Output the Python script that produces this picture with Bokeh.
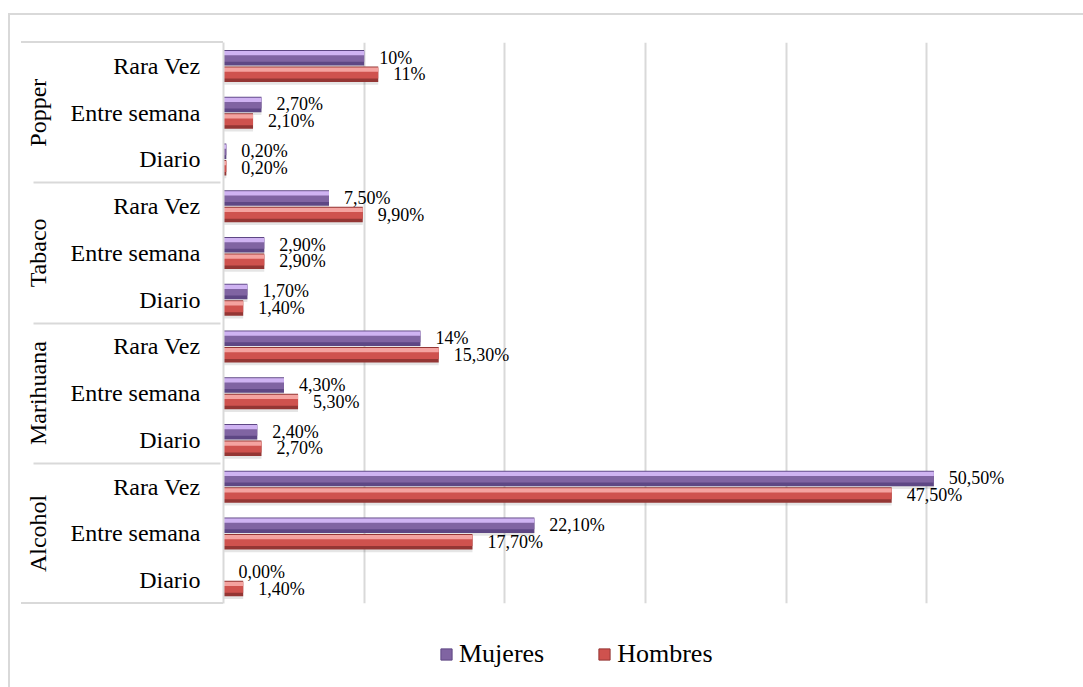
from bokeh.plotting import figure
from bokeh.layouts import column
from bokeh.models import FactorRange, Range1d, FixedTicker, Legend, LegendItem, ColumnDataSource
from bokeh.transform import dodge
from bokeh.core.properties import value
from bokeh.embed import file_html
from bokeh.resources import INLINE

# ---- data (top-to-bottom order as in the chart) ----
substances = ["Popper", "Tabaco", "Marihuana", "Alcohol"]
frequencies = ["Rara Vez", "Entre semana", "Diario"]
mujeres = [10, 2.7, 0.2, 7.5, 2.9, 1.7, 14, 4.3, 2.4, 50.5, 22.1, 0.0]
hombres = [11, 2.1, 0.2, 9.9, 2.9, 1.4, 15.3, 5.3, 2.7, 47.5, 17.7, 1.4]
mujeres_labels = ["10%", "2,70%", "0,20%", "7,50%", "2,90%", "1,70%",
                  "14%", "4,30%", "2,40%", "50,50%", "22,10%", "0,00%"]
hombres_labels = ["11%", "2,10%", "0,20%", "9,90%", "2,90%", "1,40%",
                  "15,30%", "5,30%", "2,70%", "47,50%", "17,70%", "1,40%"]
x_ticks = [0, 10, 20, 30, 40, 50, 60]
series_names = ["Mujeres", "Hombres"]

FONT = "'Liberation Serif', serif"
FONT_GLYPH = "Liberation Serif"
GRID = "#d9d9d9"

cats = [(s, f) for s in substances for f in frequencies]
source = ColumnDataSource(data=dict(cat=cats, m=mujeres, h=hombres,
                                    ml=mujeres_labels, hl=hombres_labels))

y_range = FactorRange(*list(reversed(cats)), group_padding=0, factor_padding=0,
                      subgroup_padding=0, range_padding=0)

p = figure(width=1073, height=612, y_range=y_range, x_range=Range1d(0, 60),
           output_backend="svg", toolbar_location=None,
           min_border_left=213, min_border_right=16, min_border_top=27,
           min_border_bottom=24)
p.outline_line_color = None
p.background_fill_color = "white"
p.border_fill_color = None
# top and bottom rules of the category-label box (decoration only)
rule = f"linear-gradient({GRID}, {GRID})"
p.styles = {
    "background-color": "white",
    "background-image": f"{rule}, {rule}",
    "background-position": "11px 26px, 11px 587px",
    "background-size": "202px 2px, 202px 2px",
    "background-repeat": "no-repeat, no-repeat",
}

p.xaxis.visible = False
p.ygrid.grid_line_color = None
p.xgrid.ticker = FixedTicker(ticks=x_ticks)
p.xgrid.grid_line_color = GRID
p.xgrid.grid_line_width = 2

ax = p.yaxis[0]
ax.axis_line_color = GRID
ax.axis_line_width = 2
ax.major_tick_line_color = None
ax.minor_tick_line_color = None
ax.major_label_text_font = FONT
ax.major_label_text_font_size = "24px"
ax.major_label_text_color = "black"
ax.major_label_standoff = 17
ax.group_text_font = FONT
ax.group_text_font_size = "24px"
ax.group_text_color = "black"
ax.group_text_font_style = "normal"
ax.group_label_orientation = "parallel"
ax.separator_line_color = GRID
ax.separator_line_width = 2

H = 0.33
styles = {
    "Mujeres": dict(off=0.175, dark="#5e4784", mid="#8064a2", light="#cfb3f2", col="m", lab="ml"),
    "Hombres": dict(off=-0.18, dark="#943634", mid="#cf524e", light="#f4a3a0", col="h", lab="hl"),
}

# soft shadows under the bars
for name in ["Hombres", "Mujeres"]:
    s = styles[name]
    p.hbar(y=dodge("cat", s["off"] - 0.06, range=y_range), right=s["col"], left=0,
           height=H, source=source, fill_color="black", fill_alpha=0.10, line_color=None)

for name in series_names:
    s = styles[name]
    p.hbar(y=dodge("cat", s["off"], range=y_range), right=s["col"], left=0,
           height=H, source=source, fill_color=s["dark"], line_color=None)
    p.hbar(y=dodge("cat", s["off"] + H * 0.08, range=y_range), right=s["col"], left=0,
           height=H * 0.7, source=source, fill_color=s["mid"], line_color=None)
    p.hbar(y=dodge("cat", s["off"] + H * 0.3, range=y_range), right=s["col"], left=0,
           height=H * 0.28, source=source, fill_color=s["light"], line_color=None)
    p.text(x=s["col"], y=dodge("cat", s["off"], range=y_range), text=s["lab"], source=source,
           x_offset=15, text_baseline="middle", text_align="left",
           text_font=value(FONT_GLYPH), text_font_size="18px", text_color="black")

# ---- legend strip below the chart ----
lf = figure(width=1073, height=60, x_range=Range1d(0, 1), y_range=Range1d(0, 1),
            output_backend="svg", toolbar_location=None,
            min_border=0, min_border_left=0, min_border_right=0,
            min_border_top=0, min_border_bottom=0)
lf.axis.visible = False
lf.grid.visible = False
lf.outline_line_color = None
lf.border_fill_color = "white"
swatch = ColumnDataSource(data=dict(y=[0.5], right=[0]))
legend_items = []
for name in series_names:
    s = styles[name]
    r = lf.hbar(y="y", right="right", left=0, height=0.0, source=swatch,
                fill_color=s["mid"], line_color=s["dark"], line_width=1)
    legend_items.append(LegendItem(label=name, renderers=[r]))

legend = Legend(items=legend_items, orientation="horizontal", location=(216, 18),
                label_text_font=FONT, label_text_font_size="26px", label_text_color="black",
                glyph_width=14, glyph_height=14, label_standoff=6, spacing=53,
                padding=0, margin=0, border_line_color=None, background_fill_alpha=0)
lf.add_layout(legend, "center")

layout = column(p, lf, spacing=0,
                styles={"margin-left": "8px", "margin-top": "13px",
                        "border-left": f"2px solid {GRID}",
                        "border-top": f"2px solid {GRID}"})

open("out.html", "w").write(file_html(layout, INLINE))
